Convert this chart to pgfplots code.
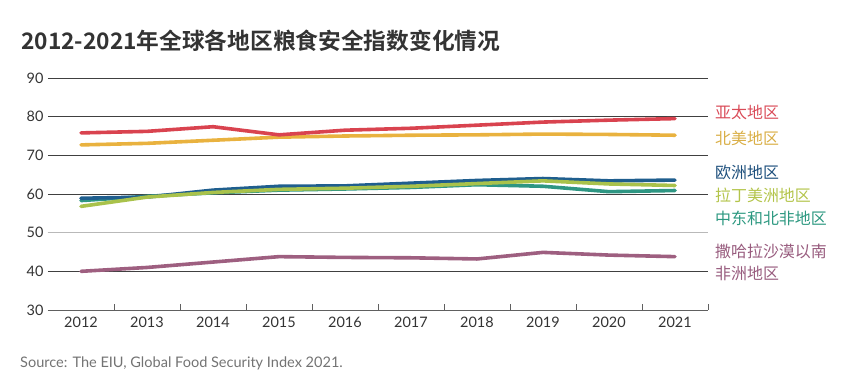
\documentclass[border=0pt]{standalone}
\usepackage{fontspec}
\usepackage{pgfplots}
\pgfplotsset{compat=1.18}
\setmainfont{Lato}
\newfontfamily\cjk{Noto Sans CJK SC}
\newfontfamily\cjkb{Noto Sans CJK SC Bold}
\definecolor{cRed}{HTML}{D9434F}
\definecolor{cYel}{HTML}{E9B23F}
\definecolor{cBlue}{HTML}{1F5E8E}
\definecolor{cLime}{HTML}{A9C24B}
\definecolor{cTeal}{HTML}{2E9683}
\definecolor{cPur}{HTML}{9E5F80}
\definecolor{lRed}{HTML}{D94B58}
\definecolor{lYel}{HTML}{D9AE45}
\definecolor{lBlue}{HTML}{1D4F7C}
\definecolor{lLime}{HTML}{B3C44A}
\definecolor{lTeal}{HTML}{2C9880}
\definecolor{lPur}{HTML}{985C7E}
\definecolor{txt}{HTML}{333333}
\begin{document}
\begin{tikzpicture}
\useasboundingbox (0,0) rectangle (854bp,384bp);
\node[anchor=west, font=\cjkb\fontsize{22.8}{25}\selectfont, text=txt, inner sep=0pt] at (21bp,343bp) {2012-2021年全球各地区粮食安全指数变化情况};
\node[anchor=west, font=\fontsize{14.6}{16}\selectfont, text=gray!90!black, inner sep=0pt] at (20bp,21bp) {Source: The EIU, Global Food Security Index 2021.};
\begin{axis}[
  at={(48bp,74bp)}, anchor=south west,
  scale only axis, width=660bp, height=232bp,
  xmin=2011.5, xmax=2021.5, ymin=30, ymax=90,
  clip=false,
  axis x line*=bottom, axis y line*=left,
  x axis line style={draw=gray!75!black, line width=0.9bp, -},
  y axis line style={draw=none},
  xtick={2012,...,2021},
  xticklabels={2012,2013,2014,2015,2016,2017,2018,2019,2020,2021},
  major x tick style={draw=none},
  minor xtick={2012.5,2013.5,2014.5,2015.5,2016.5,2017.5,2018.5,2019.5,2020.5,2021.5},
  minor x tick style={draw=gray!75!black, line width=0.9bp},
  minor tick length=6bp,
  tick align=inside,
  ytick={30,40,...,90},
  yticklabels={30,40,50,60,70,80,90},
  ytick style={draw=none},
  ymajorgrids,
  grid style={draw=black!75, line width=0.8bp},
  tick label style={font=\fontsize{14.5}{16}\selectfont, text=txt},
  xticklabel style={yshift=-4bp},
  yticklabel style={xshift=-1bp},
]
\draw[gray!55, line width=1.6bp] (axis cs:2011.5,50) -- (axis cs:2021.5,50);
\addplot[cPur, line width=3.6bp, line join=round, line cap=round] coordinates {
(2012,40.0) (2013,41.0) (2014,42.4) (2015,43.8) (2016,43.6) (2017,43.5) (2018,43.2) (2019,44.9) (2020,44.2) (2021,43.8)};
\addplot[cTeal, line width=3.6bp, line join=round, line cap=round] coordinates {
(2012,58.3) (2013,59.4) (2014,60.3) (2015,61.0) (2016,61.3) (2017,61.7) (2018,62.4) (2019,62.0) (2020,60.6) (2021,60.9)};
\addplot[cBlue, line width=3.6bp, line join=round, line cap=round] coordinates {
(2012,58.9) (2013,59.2) (2014,61.0) (2015,62.0) (2016,62.1) (2017,62.8) (2018,63.5) (2019,64.0) (2020,63.4) (2021,63.6)};
\addplot[cLime, line width=3.6bp, line join=round, line cap=round] coordinates {
(2012,56.8) (2013,59.2) (2014,60.4) (2015,61.2) (2016,61.5) (2017,62.0) (2018,62.7) (2019,63.4) (2020,62.6) (2021,62.2)};
\addplot[cYel, line width=3.6bp, line join=round, line cap=round] coordinates {
(2012,72.7) (2013,73.1) (2014,73.9) (2015,74.7) (2016,75.0) (2017,75.2) (2018,75.3) (2019,75.5) (2020,75.4) (2021,75.2)};
\addplot[cRed, line width=3.6bp, line join=round, line cap=round] coordinates {
(2012,75.8) (2013,76.2) (2014,77.4) (2015,75.3) (2016,76.5) (2017,77.0) (2018,77.8) (2019,78.6) (2020,79.1) (2021,79.5)};
\begin{scope}[every node/.style={anchor=west, inner sep=0pt, font=\cjk\fontsize{16}{18}\selectfont}]
\node[text=lRed]  at (axis cs:2021.5,81.1) [xshift=7bp] {亚太地区};
\node[text=lYel]  at (axis cs:2021.5,74.5) [xshift=7bp] {北美地区};
\node[text=lBlue] at (axis cs:2021.5,65.5) [xshift=7bp] {欧洲地区};
\node[text=lLime] at (axis cs:2021.5,59.6) [xshift=7bp] {拉丁美洲地区};
\node[text=lTeal] at (axis cs:2021.5,53.6) [xshift=7bp] {中东和北非地区};
\node[text=lPur]  at (axis cs:2021.5,45.2) [xshift=7bp] {撒哈拉沙漠以南};
\node[text=lPur]  at (axis cs:2021.5,39.4) [xshift=7bp] {非洲地区};
\end{scope}
\end{axis}
\end{tikzpicture}
\end{document}
